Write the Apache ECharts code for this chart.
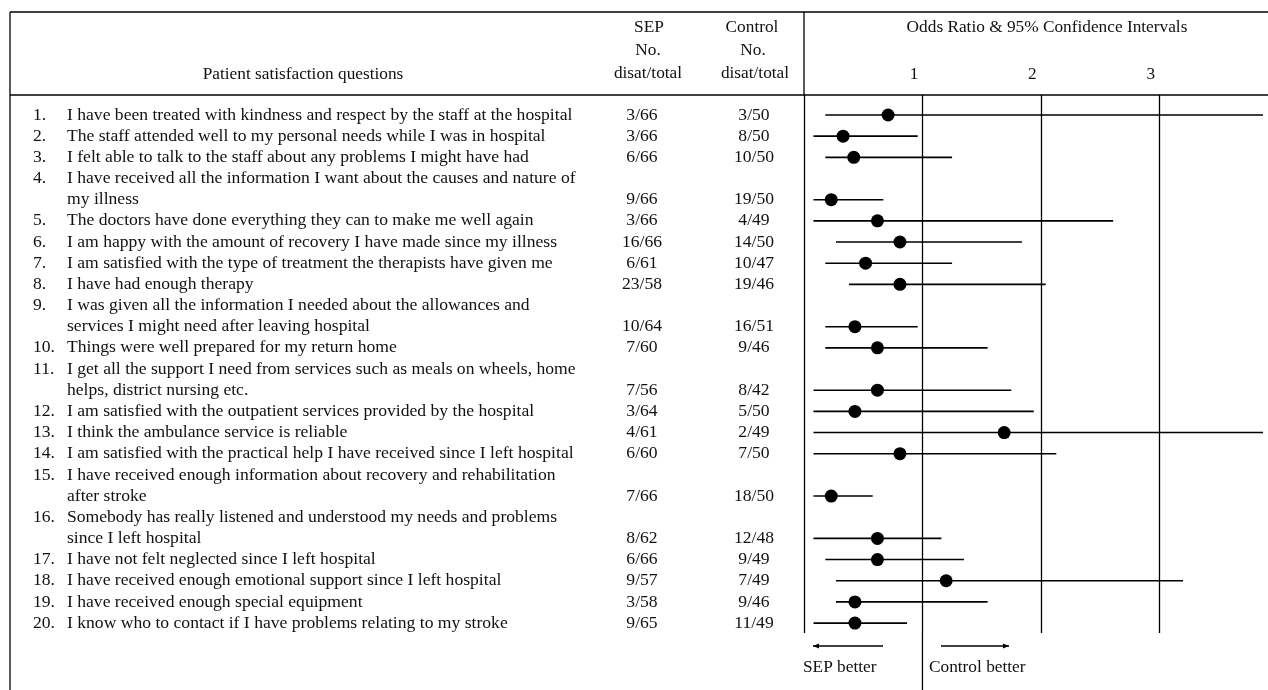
<!DOCTYPE html>
<html>
<head>
<meta charset="utf-8">
<title>Patient satisfaction - odds ratios</title>
<script src="https://cdn.jsdelivr.net/npm/echarts@6/dist/echarts.min.js"></script>
<style>
  html, body { margin: 0; padding: 0; background: #fff; }
  #main { width: 1268px; height: 690px; }
</style>
</head>
<body>
<div id="main"></div>
<script>
// questions (long ones wrap onto a second printed line)
var questions = [
    ["I have been treated with kindness and respect by the staff at the hospital"],
    ["The staff attended well to my personal needs while I was in hospital"],
    ["I felt able to talk to the staff about any problems I might have had"],
    ["I have received all the information I want about the causes and nature of", "my illness"],
    ["The doctors have done everything they can to make me well again"],
    ["I am happy with the amount of recovery I have made since my illness"],
    ["I am satisfied with the type of treatment the therapists have given me"],
    ["I have had enough therapy"],
    ["I was given all the information I needed about the allowances and", "services I might need after leaving hospital"],
    ["Things were well prepared for my return home"],
    ["I get all the support I need from services such as meals on wheels, home", "helps, district nursing etc."],
    ["I am satisfied with the outpatient services provided by the hospital"],
    ["I think the ambulance service is reliable"],
    ["I am satisfied with the practical help I have received since I left hospital"],
    ["I have received enough information about recovery and rehabilitation", "after stroke"],
    ["Somebody has really listened and understood my needs and problems", "since I left hospital"],
    ["I have not felt neglected since I left hospital"],
    ["I have received enough emotional support since I left hospital"],
    ["I have received enough special equipment"],
    ["I know who to contact if I have problems relating to my stroke"]
];
var sepCounts = ["3/66", "3/66", "6/66", "9/66", "3/66", "16/66", "6/61", "23/58", "10/64", "7/60",
                 "7/56", "3/64", "4/61", "6/60", "7/66", "8/62", "6/66", "9/57", "3/58", "9/65"];
var controlCounts = ["3/50", "8/50", "10/50", "19/50", "4/49", "14/50", "10/47", "19/46", "16/51", "9/46",
                     "8/42", "5/50", "2/49", "7/50", "18/50", "12/48", "9/49", "7/49", "9/46", "11/49"];
// odds ratio and 95% CI
var oddsRatio = [0.71, 0.33, 0.42, 0.23, 0.62, 0.81, 0.52, 0.81, 0.43, 0.62,
                 0.62, 0.43, 1.69, 0.81, 0.23, 0.62, 0.62, 1.20, 0.43, 0.43];
var ciLow  = [0.18, 0.08, 0.18, 0.08, 0.08, 0.27, 0.18, 0.38, 0.18, 0.18,
              0.08, 0.08, 0.08, 0.08, 0.08, 0.08, 0.18, 0.27, 0.27, 0.08];
var ciHigh = [4.2, 0.96, 1.25, 0.67, 2.61, 1.84, 1.25, 2.04, 0.96, 1.55,
              1.75, 1.94, 4.2, 2.13, 0.58, 1.16, 1.35, 3.20, 1.55, 0.87];
var tickLabels = ["1", "2", "3"];

// one slot per printed line, estimate goes on the last line of a question
var numSlots = [], textSlots = [], sepSlots = [], ctrlSlots = [], rowLine = [];
questions.forEach(function (q, i) {
    q.forEach(function (txt, k) {
        var last = k === q.length - 1;
        numSlots.push(k === 0 ? (i + 1) + "." : "");
        textSlots.push(txt);
        sepSlots.push(last ? sepCounts[i] : "");
        ctrlSlots.push(last ? controlCounts[i] : "");
    });
    rowLine.push(textSlots.length - 1);
});
var nLines = textSlots.length;

// layout
var FONT = "Liberation Serif";
var FS = 17.6;      // table rows
var FS_HEAD = 17.3; // header and annotations
var INK = "#111";
var HEAD_Y = 95, ROW0 = 115, ROW_H = 21.17, PLOT_BOT = 633;
var PLOT_L = 804, PLOT_R = 1263, XMAX = 3.875;

var chart = echarts.init(document.getElementById("main"));

function colAxis(data, align, margin) {
    return {
        type: "category", gridIndex: 1, inverse: true, data: data, position: "left",
        axisLine: {show: false}, axisTick: {show: false}, splitLine: {show: false},
        axisLabel: {interval: 0, align: align, margin: margin, fontFamily: FONT, fontSize: FS, color: INK}
    };
}

var option = {
    animation: false,
    backgroundColor: "#fff",
    grid: [
        {left: PLOT_L, right: 1268 - PLOT_R, top: HEAD_Y, bottom: 690 - PLOT_BOT},
        {left: PLOT_L, right: 1268 - PLOT_R, top: ROW0 - ROW_H / 2, height: nLines * ROW_H}
    ],
    xAxis: [
        {
            type: "value", gridIndex: 0, position: "top", min: 0, max: XMAX, interval: 1,
            axisLine: {show: false}, axisTick: {show: false}, splitLine: {show: false},
            axisLabel: {
                margin: 12, padding: [0, 17, 0, 0], fontFamily: FONT, fontSize: FS_HEAD, color: INK,
                formatter: function (v) {
                    return (v >= 1 && v <= 3 && v % 1 === 0) ? tickLabels[v - 1] : "";
                }
            }
        },
        {type: "value", gridIndex: 1, show: false}
    ],
    yAxis: [
        {
            type: "value", gridIndex: 0, inverse: true, show: false,
            min: (HEAD_Y - ROW0) / ROW_H, max: (PLOT_BOT - ROW0) / ROW_H
        },
        colAxis(numSlots, "left", PLOT_L - 33),
        colAxis(textSlots, "left", PLOT_L - 67),
        colAxis(sepSlots, "center", PLOT_L - 642),
        colAxis(ctrlSlots, "center", PLOT_L - 754)
    ],
    series: [
        {
            type: "custom",
            xAxisIndex: 0, yAxisIndex: 0,
            data: ciLow.map(function (lo, i) { return [lo, ciHigh[i], rowLine[i]]; }),
            encode: {x: [0, 1], y: 2},
            renderItem: function (params, api) {
                var y = api.value(2);
                var a = api.coord([api.value(0), y]);
                var b = api.coord([api.value(1), y]);
                var cs = params.coordSys;
                return {
                    type: "line",
                    shape: {x1: Math.max(a[0], cs.x), y1: a[1], x2: Math.min(b[0], cs.x + cs.width), y2: a[1]},
                    style: {stroke: "#000", lineWidth: 1.6}
                };
            },
            markLine: {
                silent: true, symbol: ["none", "none"], label: {show: false},
                lineStyle: {color: "#000", width: 1.3, type: "solid"},
                data: [{xAxis: 0}, {xAxis: 1}, {xAxis: 2}, {xAxis: 3}]
            },
            z: 2
        },
        {
            type: "scatter",
            xAxisIndex: 0, yAxisIndex: 0,
            data: oddsRatio.map(function (v, i) { return [v, rowLine[i]]; }),
            symbol: "circle", symbolSize: 13,
            itemStyle: {color: "#000", opacity: 1},
            z: 3
        }
    ]
};
chart.setOption(option);

// table frame, header and the "better" arrows
var x1 = chart.convertToPixel({xAxisIndex: 0}, 1);
function ln(xa, ya, xb, yb, w) {
    return {type: "line", shape: {x1: xa, y1: ya, x2: xb, y2: yb}, style: {stroke: "#000", lineWidth: w || 1.3}, silent: true};
}
function txt(s, x, y, align) {
    return {
        type: "text", x: x, y: y, silent: true,
        style: {text: s, font: FS_HEAD + "px '" + FONT + "'", fill: INK,
                align: align || "center", textAlign: align || "center",
                verticalAlign: "middle", textVerticalAlign: "middle"}
    };
}
function head(x, y, dir) {
    return {type: "polygon", silent: true, shape: {points: [[x, y], [x - dir * 6, y - 2.6], [x - dir * 6, y + 2.6]]}, style: {fill: "#000"}};
}
chart.setOption({
    graphic: [
        ln(10, 12, 1268, 12, 1.4),
        ln(10, HEAD_Y, 1268, HEAD_Y, 1.4),
        ln(10, 12, 10, 690, 1.3),
        ln(PLOT_L, 12, PLOT_L, HEAD_Y, 1.3),
        ln(x1, PLOT_BOT, x1, 690, 1.3),
        txt("Patient satisfaction questions", 303, 74),
        txt("SEP", 649, 27), txt("No.", 648, 50), txt("disat/total", 648, 73),
        txt("Control", 752, 27), txt("No.", 753, 50), txt("disat/total", 755, 73),
        txt("Odds Ratio & 95% Confidence Intervals", 1047, 27),
        ln(813, 646, 883, 646, 1.3), head(813, 646, -1),
        ln(941, 646, 1009, 646, 1.3), head(1009, 646, 1),
        txt("SEP better", 803, 667, "left"),
        txt("Control better", 929, 667, "left")
    ]
});
</script>
</body>
</html>
